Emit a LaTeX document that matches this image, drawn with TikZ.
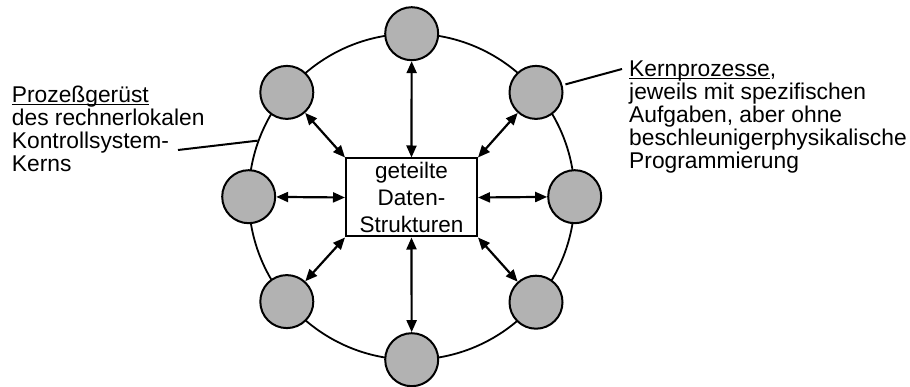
\documentclass[tikz,border=0pt]{standalone}
\usepackage{fontspec}
\setmainfont{Liberation Sans}
\usetikzlibrary{arrows.meta}
\definecolor{procfill}{RGB}{178,178,178}
% underline at a fixed distance below the baseline
\newcommand{\ulbar}[1]{\sbox0{#1}\rlap{\rule[-2.8pt]{\wd0}{1.4pt}}\usebox0}
\begin{document}
\begin{tikzpicture}[x=1pt,y=-1pt,
  ring/.style={circle,draw,line width=1.8pt,minimum size=326pt,inner sep=0pt},
  proc/.style={circle,draw,line width=2pt,fill=procfill,minimum size=53pt,inner sep=0pt},
  databox/.style={draw,line width=2pt,fill=white,minimum width=131pt,minimum height=78pt,
    inner sep=0pt,align=center,font=\fontsize{22.5}{26.7}\selectfont},
  biarrow/.style={line width=2.2pt,
    {Triangle[length=12pt,width=10pt]}-{Triangle[length=12pt,width=10pt]}},
  leader/.style={line width=2pt},
  label/.style={anchor=base west,align=left,inner sep=0pt,font=\fontsize{22.8}{23}\selectfont}]
\useasboundingbox (0,0) rectangle (910,387);

% outer ring of the process framework
\node[ring] (ring) at (411.7,196.7) {};

% shared data structures in the middle
\node[databox] (box) at (411.5,197.5) {geteilte\\Daten-\\Strukturen};

% kernel processes on the ring
\node[proc] (t)  at (411.7,33.7)  {};
\node[proc] (b)  at (411.7,359.7) {};
\node[proc] (l)  at (248.7,196.7) {};
\node[proc] (r)  at (574.7,196.7) {};
\node[proc] (tl) at (286.8,92.4)  {};
\node[proc] (tr) at (536.0,92.4)  {};
\node[proc] (bl) at (286.8,301.6) {};
\node[proc] (br) at (536.0,302.2) {};

% data exchange
\draw[biarrow] (t)  -- (box.north);
\draw[biarrow] (b)  -- (box.south);
\draw[biarrow] (l)  -- (box.west);
\draw[biarrow] (r)  -- (box.east);
\draw[biarrow] (tl) -- (box.north west);
\draw[biarrow] (tr) -- (box.north east);
\draw[biarrow] (bl) -- (box.south west);
\draw[biarrow] (br) -- (box.south east);

% labels (anchored at the baseline of their last line) and leader lines
\node[label] (lefttext) at (11.7,171.3)
  {\ulbar{Prozeßgerüst}\\des rechnerlokalen\\Kontrollsystem-\\Kerns};
\node[label] (righttext) at (629,168.7)
  {\ulbar{Kernprozesse},\\jeweils mit spezifischen\\Aufgaben, aber ohne\\beschleunigerphysikalische\\Programmierung};

\coordinate (lleft) at (178,150);
\coordinate (rleft) at (622,69);
\draw[leader] (lleft) -- (ring.160);
\draw[leader,shorten <=3pt] (tr) -- (rleft);
\end{tikzpicture}
\end{document}
